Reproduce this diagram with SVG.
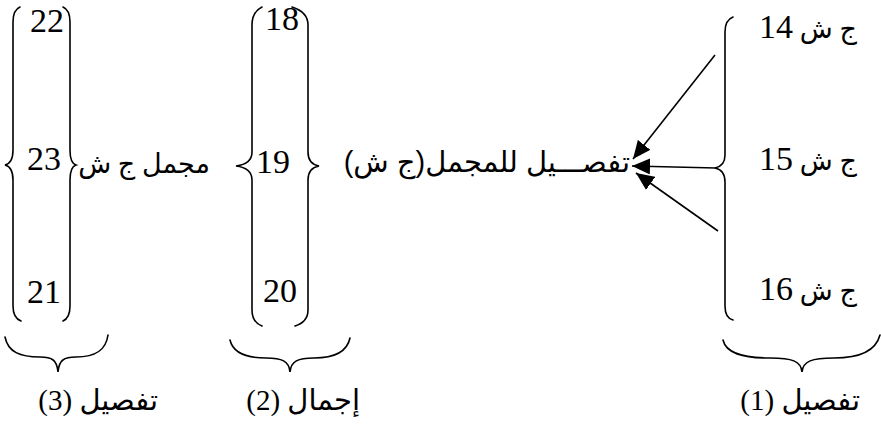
<svg xmlns="http://www.w3.org/2000/svg" width="881" height="432" viewBox="0 0 881 432">
<defs>
<style>
.br{fill:none;stroke:#000;stroke-width:1.6;stroke-linecap:round}
.num{font-family:"Liberation Serif","Times New Roman",serif;font-size:34px;fill:#000}
.ar{font-family:"Liberation Serif","DejaVu Sans",serif;font-size:27px;fill:#000}
.mid{font-family:"Liberation Sans","DejaVu Sans",sans-serif;font-size:29px;fill:#000}
.lbl{font-family:"Liberation Serif","DejaVu Sans",serif;font-size:29px;fill:#000}
.ln{stroke:#000;stroke-width:1.6;fill:none}
</style>
<marker id="ah" markerUnits="userSpaceOnUse" markerWidth="20" markerHeight="16" refX="18" refY="8" orient="auto">
<path d="M0,0 L18,8 L0,16 Z" fill="#000"/>
</marker>
</defs>

<g id="group3">
<path class="br" d="M20,7 Q13,10 13,22 L13,150 Q13,163 5,165 Q13,167 13,180 L13,306 Q13,318 21,321"/>
<path class="br" d="M63,7 Q70,10 70,22 L70,150 Q70,163 76,165 Q70,167 70,180 L70,306 Q70,318 63,321"/>
<text class="num" x="30" y="32" font-family="Liberation Serif">22</text>
<text class="num" x="27" y="170" font-family="Liberation Serif">23</text>
<text class="num" x="27" y="303" font-family="Liberation Serif">21</text>
<text class="ar" x="210" y="173" direction="rtl" text-anchor="start">مجمل ج ش</text>
</g>

<g id="group2">
<path class="br" d="M262,7 Q252,12 252,25 L252,152 Q252,164 236,166 Q252,168 252,180 L252,310 Q252,322 262,326"/>
<path class="br" d="M292,7 Q308,12 308,25 L308,152 Q308,164 319,166 Q308,168 308,180 L308,310 Q308,322 295,326"/>
<text class="num" x="265" y="30" font-family="Liberation Serif">18</text>
<text class="num" x="256" y="173" font-family="Liberation Serif">19</text>
<text class="num" x="263" y="302" font-family="Liberation Serif">20</text>
</g>

<g id="middle">
<text class="mid" x="630" y="172" direction="rtl" text-anchor="start">تفصـــيل للمجمل(ج ش)</text>
</g>

<g id="group1">
<path class="br" d="M733,17 Q725,20 725,32 L725,155 Q725,166 715,168 Q725,170 725,182 L725,306 Q725,318 733,320"/>
<text class="ar" x="857" y="38" direction="rtl" text-anchor="start">ج ش <tspan class="num" font-family="Liberation Serif">14</tspan></text>
<text class="ar" x="857" y="170" direction="rtl" text-anchor="start">ج ش <tspan class="num" font-family="Liberation Serif">15</tspan></text>
<text class="ar" x="857" y="300" direction="rtl" text-anchor="start">ج ش <tspan class="num" font-family="Liberation Serif">16</tspan></text>
</g>

<g id="under3">
<path class="br" d="M5,337 C8,352 20,357 40,357 C52,357 57,360 58,372 C59,360 64,357 76,357 C96,357 106,350 108,335"/>
<text class="lbl" x="158" y="410" direction="rtl" text-anchor="start">تفصيل  (3)</text>
</g>
<g id="under2">
<path class="br" d="M230,340 C233,353 246,358 266,358 C282,358 289,361 290,372 C291,361 298,358 314,358 C334,358 347,352 350,338"/>
<text class="lbl" x="360" y="410" direction="rtl" text-anchor="start">إجمال (2)</text>
</g>
<g id="under1">
<path class="br" d="M723,340 C726,353 742,358 770,358 C792,358 801,361 802,372 C803,361 812,358 834,358 C862,358 876,350 880,335"/>
<text class="lbl" x="860" y="410" direction="rtl" text-anchor="start">تفصيل (1)</text>
</g>

<g id="connectors">
<line class="ln" x1="715" y1="55" x2="633" y2="159" marker-end="url(#ah)"/>
<line class="ln" x1="716" y1="168" x2="632" y2="166" marker-end="url(#ah)"/>
<line class="ln" x1="718" y1="231" x2="636" y2="173" marker-end="url(#ah)"/>
</g>
</svg>
